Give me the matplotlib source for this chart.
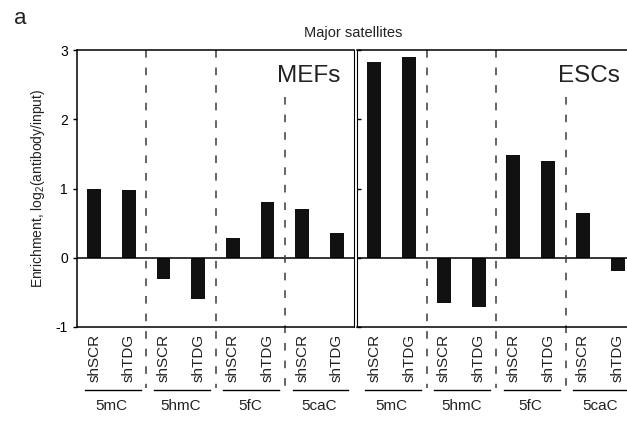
import numpy as np
import matplotlib
matplotlib.use("Agg")
import matplotlib.pyplot as plt
import matplotlib.transforms as mtransforms

plt.rcParams['font.family'] = ['Liberation Sans', 'DejaVu Sans']
plt.rcParams['mathtext.fontset'] = 'custom'
plt.rcParams['mathtext.rm'] = 'Liberation Sans'
plt.rcParams['mathtext.it'] = 'Liberation Sans:italic'

# data
marks = ["5mC", "5hmC", "5fC", "5caC"]
conditions = ["shSCR", "shTDG"]
mef_scr = [1.00, -0.30, 0.29, 0.70]
mef_tdg = [0.98, -0.60, 0.81, 0.36]
esc_scr = [2.83, -0.65, 1.49, 0.65]
esc_tdg = [2.90, -0.71, 1.39, -0.19]
panels = ["MEFs", "ESCs"]

fig = plt.figure(figsize=(6.27, 4.21), dpi=100)
ax1 = fig.add_axes([77 / 627, 1 - 327 / 421, 277 / 627, 277 / 421])
ax2 = fig.add_axes([357 / 627, 1 - 327 / 421, 278 / 627, 277 / 421])

dash = (0, (5, 6.5))
bar_col = "#111111"

for ax, scr, tdg, name in [(ax1, mef_scr, mef_tdg, panels[0]),
                           (ax2, esc_scr, esc_tdg, panels[1])]:
    x = np.arange(len(marks))
    ax.bar(x + 0.25, scr, width=0.2, color=bar_col)
    ax.bar(x + 0.75, tdg, width=0.2, color=bar_col)
    ax.axhline(0, color="black", lw=1.1)
    ax.set_xlim(0, 4)
    ax.set_ylim(-1, 3)

    pos = np.concatenate([x + 0.25, x + 0.75])
    labs = [conditions[0]] * 4 + [conditions[1]] * 4
    ax.set_xticks(pos)
    ax.set_xticklabels(labs, rotation=90, fontsize=11, color="#222222")
    ax.tick_params(axis="x", length=0, pad=5)

    trans = mtransforms.blended_transform_factory(ax.transData, ax.transAxes)
    # dashed separators between marks
    for g in [1, 2]:
        ax.plot([g, g], [1.0, -0.22], transform=trans, clip_on=False,
                color="#3a3a3a", lw=1.1, ls=dash)
    ax.plot([3, 3], [0.83, -0.22], transform=trans, clip_on=False,
            color="#3a3a3a", lw=1.1, ls=dash)

    # group labels with underline
    for i, m in enumerate(marks):
        ax.plot([i + 0.115, i + 0.92], [-0.227, -0.227], transform=trans,
                clip_on=False, color="black", lw=1)
        ax.text(i + 0.5, -0.285, m, transform=trans, ha="center",
                va="center", fontsize=11, color="#222222")

    ax.text(0.835, 0.905, name, transform=ax.transAxes, ha="center",
            va="center", fontsize=17.5, color="#222222")

    for s in ax.spines.values():
        s.set_linewidth(1.1)

ax1.spines["right"].set_linewidth(0.8)
ax2.spines["left"].set_linewidth(0.8)

ax1.set_yticks([-1, 0, 1, 2, 3])
ax1.set_yticklabels(["-1", "0", "1", "2", "3"], fontsize=10)
ax1.tick_params(axis="y", length=3, width=1)
ax1.set_ylabel("Enrichment, log$_2$(antibody/input)", fontsize=10,
               color="#222222", labelpad=6)

ax2.set_yticks([-1, 0, 1, 2, 3])
ax2.set_yticklabels([])
ax2.tick_params(axis="y", direction="in", length=3, width=1)
ax2.spines["right"].set_visible(False)

fig.text(353 / 627, 1 - 33 / 421, "Major satellites", ha="center",
         va="center", fontsize=10.5, color="#222222")
fig.text(20 / 627, 1 - 18 / 421, "a", ha="center", va="center",
         fontsize=16, color="#222222")

fig.savefig("out.png", dpi=100)
